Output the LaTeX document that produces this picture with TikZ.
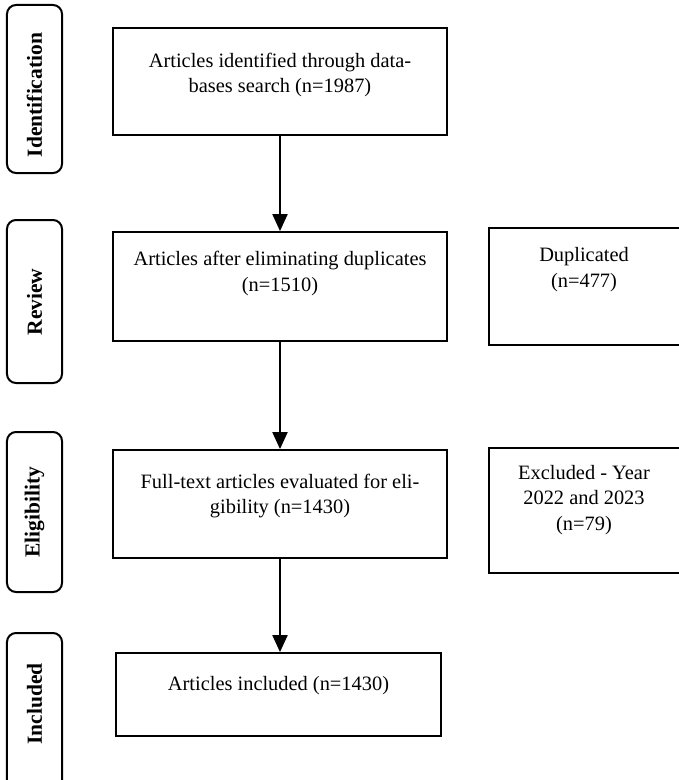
\documentclass[tikz,border=0pt]{standalone}
\usepackage{fontspec}
\setmainfont{Liberation Serif}
\usetikzlibrary{arrows.meta}
\tikzset{
  mainbox/.style={draw, line width=1.8bp, rectangle, inner sep=0pt},
  sidebox/.style={draw, line width=2.2bp, rectangle, inner sep=0pt},
  labbox/.style={draw, line width=2bp, rectangle, rounded corners=9bp, inner sep=0pt, minimum width=55bp},
  labtxt/.style={rotate=90, inner sep=0pt, font=\fontsize{21.5bp}{25bp}\selectfont\bfseries},
  txt/.style={align=center, inner sep=0pt, font=\fontsize{20.4bp}{25.5bp}\selectfont},
  flow/.style={line width=2bp, -{Triangle[width=15bp,length=17bp]}}
}
\begin{document}
\begin{tikzpicture}[x=1bp, y=-1bp]
\useasboundingbox (0,0) rectangle (679,780);
% phase labels
\node[labbox, minimum height=168bp] (l1) at (34.5,89) {};
\node[labtxt] (l1t) at (34.5,95) {Identification};
\node[labbox, minimum height=163bp] (l2) at (34.5,301.5) {};
\node[labtxt] (l2t) at (34.5,302) {Review};
\node[labbox, minimum height=160bp] (l3) at (34.5,512) {};
\node[labtxt] (l3t) at (34.5,512) {Eligibility};
\node[labbox, minimum height=160bp] (l4) at (34.5,713) {};
\node[labtxt] (l4t) at (34.5,704) {Included};
% main boxes
\node[mainbox, minimum width=334bp, minimum height=107bp] (b1) at (280,81.5) {};
\node[txt] (t1) at (280,75) {Articles identified through data-\\bases search (n=1987)};
\node[mainbox, minimum width=334bp, minimum height=109bp] (b2) at (280,286.5) {};
\node[txt] (t2) at (280,273.5) {Articles after eliminating duplicates\\(n=1510)};
\node[mainbox, minimum width=334bp, minimum height=108bp] (b3) at (280,504) {};
\node[txt] (t3) at (280,496) {Full-text articles evaluated for eli-\\gibility (n=1430)};
\node[mainbox, minimum width=325bp, minimum height=83bp] (b4) at (278.5,694.5) {};
\node[txt] (t4) at (278.5,686) {Articles included (n=1430)};
% side boxes
\node[sidebox, minimum width=201bp, minimum height=117bp] (d1) at (589.5,286.5) {};
\node[txt] (d1t) at (584,269.5) {Duplicated\\(n=477)};
\node[sidebox, minimum width=201bp, minimum height=125bp] (e1) at (589.5,510.5) {};
\node[txt] (e1t) at (584,500) {Excluded - Year\\2022 and 2023\\(n=79)};
% arrows
\draw[flow] (b1.south) -- (b2.north);
\draw[flow] (b2.south) -- (b3.north);
\draw[flow] (b3.south) -- (b3.south |- b4.north);
\end{tikzpicture}
\end{document}
